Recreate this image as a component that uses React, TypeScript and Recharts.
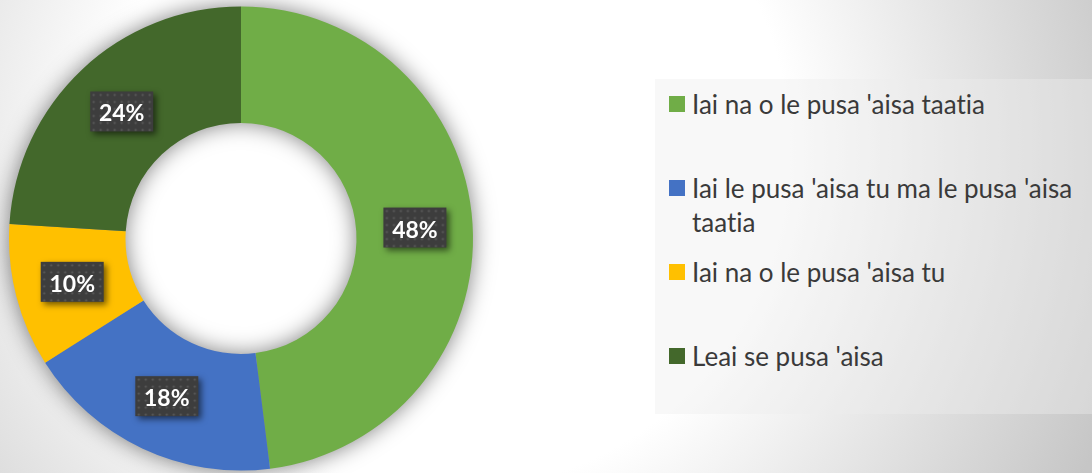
import React from "react";
import { PieChart, Pie, Cell, Legend } from "recharts";

const categories = [
  "Iai na o le pusa 'aisa taatia",
  "Iai le pusa 'aisa tu ma le pusa 'aisa taatia",
  "Iai na o le pusa 'aisa tu",
  "Leai se pusa 'aisa",
];
const shares = [48, 18, 10, 24];
const colors = ["#70AD47", "#4472C4", "#FFC000", "#43682B"];

const data = categories.map((name, i) => ({ name, value: shares[i] }));

const RADIAN = Math.PI / 180;

const renderLabel = (props: any) => {
  const { cx, cy, midAngle, innerRadius, outerRadius, percent, index } = props;
  const r = (innerRadius + outerRadius) / 2 + 0.5;
  const x = cx + r * Math.cos(-midAngle * RADIAN);
  const y = cy + r * Math.sin(-midAngle * RADIAN);
  const w = 63;
  const h = 40;
  const pid = `dots-${index}`;
  return (
    <g>
      <defs>
        <pattern id={pid} width="7" height="7" patternUnits="userSpaceOnUse" x={x - w / 2} y={y - h / 2}>
          <rect width="7" height="7" fill="#3d3d3d" />
          <circle cx="3.5" cy="3.5" r="1.1" fill="#5c5c5c" />
        </pattern>
      </defs>
      <rect
        x={x - w / 2}
        y={y - h / 2}
        width={w}
        height={h}
        fill={`url(#${pid})`}
        style={{ filter: "drop-shadow(3px 3px 3px rgba(0,0,0,0.55))" }}
      />
      <text
        x={x}
        y={y + 1}
        fill="#ffffff"
        textAnchor="middle"
        dominantBaseline="central"
        style={{ fontFamily: "Lato, sans-serif", fontWeight: 700, fontSize: 23 }}
      >
        {`${Math.round(percent * 100)}%`}
      </text>
    </g>
  );
};

const renderLegend = (props: any) => {
  const { payload } = props;
  const seen = new Set<string>();
  const items = (payload || [])
    .filter((e: any) => e.type !== "none" && colors.includes(e.color))
    .filter((e: any) => {
      if (seen.has(e.value)) return false;
      seen.add(e.value);
      return true;
    })
    .sort((a: any, b: any) => categories.indexOf(a.value) - categories.indexOf(b.value));
  return (
    <div style={{ width: "100%", height: "100%" }}>
      {items.map((entry: any, i: number) => (
        <div
          key={i}
          style={{
            height: 84,
            boxSizing: "border-box",
            paddingTop: 8,
            paddingLeft: 14,
            display: "flex",
            alignItems: "flex-start",
          }}
        >
          <div
            style={{
              width: 16,
              height: 16,
              background: entry.color,
              marginTop: 9,
              flex: "0 0 16px",
            }}
          />
          <div
            style={{
              marginLeft: 7,
              width: 395,
              fontFamily: "Lato, sans-serif",
              fontSize: 26,
              lineHeight: "34px",
              color: "#3a3a3a",
              fontVariantLigatures: "none",
              fontFeatureSettings: '"liga" 0, "clig" 0',
            }}
          >
            {entry.value}
          </div>
        </div>
      ))}
    </div>
  );
};

export default function App() {
  return (
    <div
      style={{
        position: "absolute",
        left: 0,
        top: 0,
        width: 1092,
        height: 473,
        background:
          "radial-gradient(circle at 450px 150px, #ffffff 0px, #ffffff 340px, #c6c6c6 711px)",
      }}
    >
      <style>{`.donut-shadow { filter: blur(8px); }`}</style>
      <PieChart width={1092} height={473} margin={{ top: 0, right: 0, bottom: 0, left: 0 }}>
        <Pie
          data={data}
          dataKey="value"
          nameKey="name"
          cx={241}
          cy={238.5}
          innerRadius={115.5}
          outerRadius={232}
          startAngle={90}
          endAngle={-270}
          stroke="none"
          className="donut-shadow"
          legendType="none"
          isAnimationActive={false}
        >
          {data.map((d, i) => (
            <Cell key={`s-${i}`} fill="#000000" fillOpacity={0.5} />
          ))}
        </Pie>
        <Pie
          data={data}
          dataKey="value"
          nameKey="name"
          cx={241}
          cy={238.5}
          innerRadius={115.5}
          outerRadius={232}
          startAngle={90}
          endAngle={-270}
          stroke="none"
          label={renderLabel}
          labelLine={false}
          isAnimationActive={false}
        >
          {data.map((d, i) => (
            <Cell key={`c-${i}`} fill={colors[i]} />
          ))}
        </Pie>
        <Legend
          layout="vertical"
          align="right"
          verticalAlign="middle"
          content={renderLegend}
          wrapperStyle={{
            left: 655,
            top: 79,
            width: 437,
            height: 335,
            background: "rgba(238,238,238,0.4)",
          }}
        />
      </PieChart>
    </div>
  );
}
